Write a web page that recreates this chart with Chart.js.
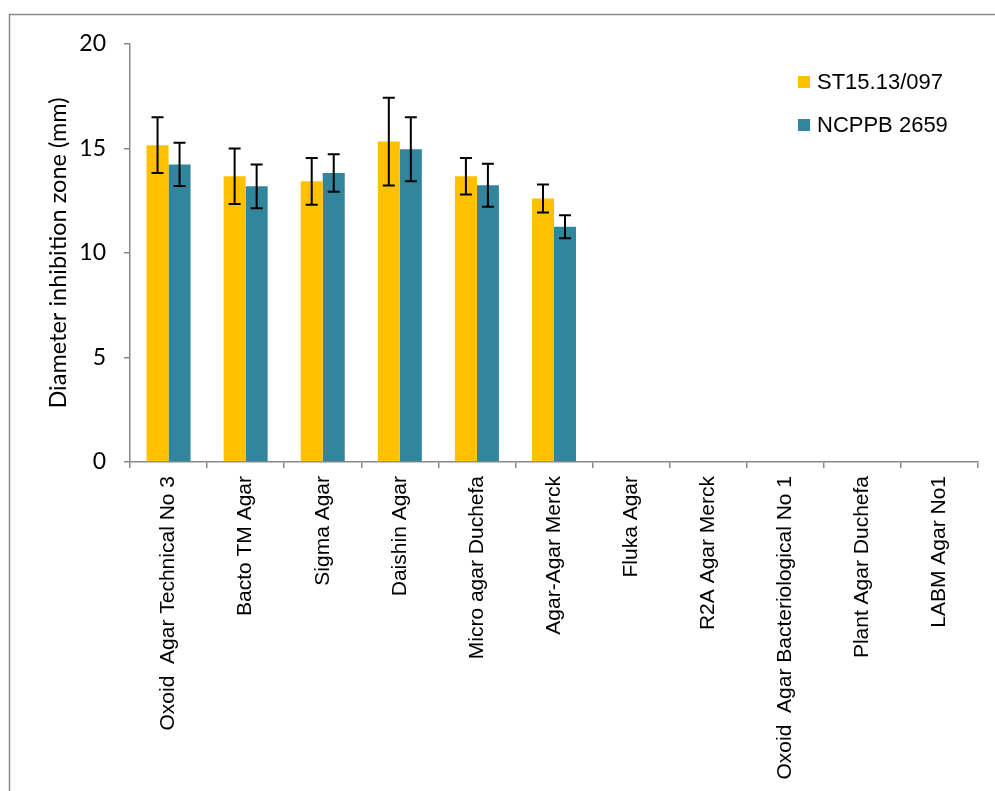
<!DOCTYPE html>
<html>
<head>
<meta charset="utf-8">
<script src="https://cdn.jsdelivr.net/npm/chart.js@4.4.1/dist/chart.umd.min.js"></script>
<style>
  html, body { margin: 0; padding: 0; background: #ffffff; }
  #wrap { width: 995px; height: 791px; position: relative; }
</style>
</head>
<body>
<div id="wrap"><canvas id="c" width="995" height="791"></canvas></div>
<script>
const categories = [
  "Oxoid  Agar Technical No 3",
  "Bacto TM Agar",
  "Sigma Agar",
  "Daishin Agar",
  "Micro agar Duchefa",
  "Agar-Agar Merck",
  "Fluka Agar",
  "R2A Agar Merck",
  "Oxoid  Agar Bacteriological No 1",
  "Plant Agar Duchefa",
  "LABM Agar No1"
];
const seriesNames = ["ST15.13/097", "NCPPB 2659"];
const st15Values = [15.16, 13.67, 13.43, 15.33, 13.67, 12.61, 0, 0, 0, 0, 0];
const st15Errors = [1.33, 1.33, 1.12, 2.10, 0.87, 0.67, 0, 0, 0, 0, 0];
const ncppbValues = [14.24, 13.19, 13.83, 14.96, 13.24, 11.26, 0, 0, 0, 0, 0];
const ncppbErrors = [1.03, 1.05, 0.90, 1.53, 1.03, 0.55, 0, 0, 0, 0, 0];
const yMin = 0, yMax = 20, yStep = 5;
const yTitle = "Diameter inhibition zone (mm)";

const AXIS_GREY = "#898989";

const frame = {
  id: "frame",
  beforeDraw(chart) {
    const ctx = chart.ctx;
    ctx.save();
    ctx.fillStyle = "#ffffff";
    ctx.fillRect(0, 0, chart.width, chart.height);
    ctx.strokeStyle = "#8a8a8a";
    ctx.lineWidth = 1.5;
    ctx.beginPath();
    ctx.moveTo(9.5, chart.height);
    ctx.lineTo(9.5, 14.5);
    ctx.lineTo(chart.width, 14.5);
    ctx.stroke();
    ctx.restore();
  }
};

const errorBars = {
  id: "errorBars",
  afterDatasetsDraw(chart) {
    const ctx = chart.ctx;
    const yScale = chart.scales.y;
    ctx.save();
    ctx.strokeStyle = "#000000";
    ctx.lineWidth = 2;
    chart.data.datasets.forEach((ds, di) => {
      const meta = chart.getDatasetMeta(di);
      ds.data.forEach((v, i) => {
        const e = ds.errors[i];
        if (!e) return;
        const x = meta.data[i].x;
        const yTop = yScale.getPixelForValue(v + e);
        const yBot = yScale.getPixelForValue(v - e);
        const cap = 6;
        ctx.beginPath();
        ctx.moveTo(x, yTop); ctx.lineTo(x, yBot);
        ctx.moveTo(x - cap, yTop); ctx.lineTo(x + cap, yTop);
        ctx.moveTo(x - cap, yBot); ctx.lineTo(x + cap, yBot);
        ctx.stroke();
      });
    });
    ctx.restore();
  }
};

const customLegend = {
  id: "customLegend",
  afterDraw(chart) {
    const ctx = chart.ctx;
    ctx.save();
    ctx.font = "22px 'Liberation Sans', Arial, sans-serif";
    ctx.textBaseline = "middle";
    ctx.textAlign = "left";
    const rows = [82, 125];
    chart.data.datasets.forEach((ds, i) => {
      const y = rows[i];
      ctx.fillStyle = ds.backgroundColor;
      ctx.fillRect(798, y - 6, 12, 12);
      ctx.fillStyle = "#000000";
      ctx.fillText(ds.label, 817, y + 1);
    });
    ctx.restore();
  }
};

new Chart(document.getElementById("c"), {
  type: "bar",
  data: {
    labels: categories,
    datasets: [
      { label: seriesNames[0], data: st15Values, errors: st15Errors, backgroundColor: "#FFC000",
        categoryPercentage: 0.571, barPercentage: 1.0, borderWidth: 0 },
      { label: seriesNames[1], data: ncppbValues, errors: ncppbErrors, backgroundColor: "#31859C",
        categoryPercentage: 0.571, barPercentage: 1.0, borderWidth: 0 }
    ]
  },
  options: {
    responsive: false,
    animation: false,
    devicePixelRatio: 1,
    layout: { padding: { left: 0, right: 17, top: 44, bottom: 0 } },
    plugins: {
      legend: { display: false },
      tooltip: { enabled: false },
      title: { display: false }
    },
    scales: {
      x: {
        grid: { display: true, drawOnChartArea: false, drawTicks: true, tickLength: 6, color: AXIS_GREY, lineWidth: 1.5, offset: true },
        border: { display: true, color: AXIS_GREY, width: 1.5 },
        ticks: {
          color: "#000000",
          font: { family: "'Liberation Sans', Arial, sans-serif", size: 21 },
          maxRotation: 90, minRotation: 90, padding: 8, autoSkip: false
        },
        afterFit(scale) { scale.height = 791 - 462; }
      },
      y: {
        min: yMin, max: yMax,
        grid: { display: true, drawOnChartArea: false, drawTicks: true, tickLength: 6, color: AXIS_GREY, lineWidth: 1.5 },
        border: { display: true, color: AXIS_GREY, width: 1.5 },
        ticks: {
          stepSize: yStep,
          color: "#000000",
          font: { family: "Lato, sans-serif", size: 23 },
          padding: 18
        },
        title: {
          display: true, text: yTitle, color: "#000000",
          font: { family: "Lato, sans-serif", size: 23.5, weight: "normal" },
          padding: { top: 44, bottom: 0 }
        },
        afterFit(scale) { scale.width = 130; }
      }
    }
  },
  plugins: [frame, errorBars, customLegend]
});
</script>
</body>
</html>
